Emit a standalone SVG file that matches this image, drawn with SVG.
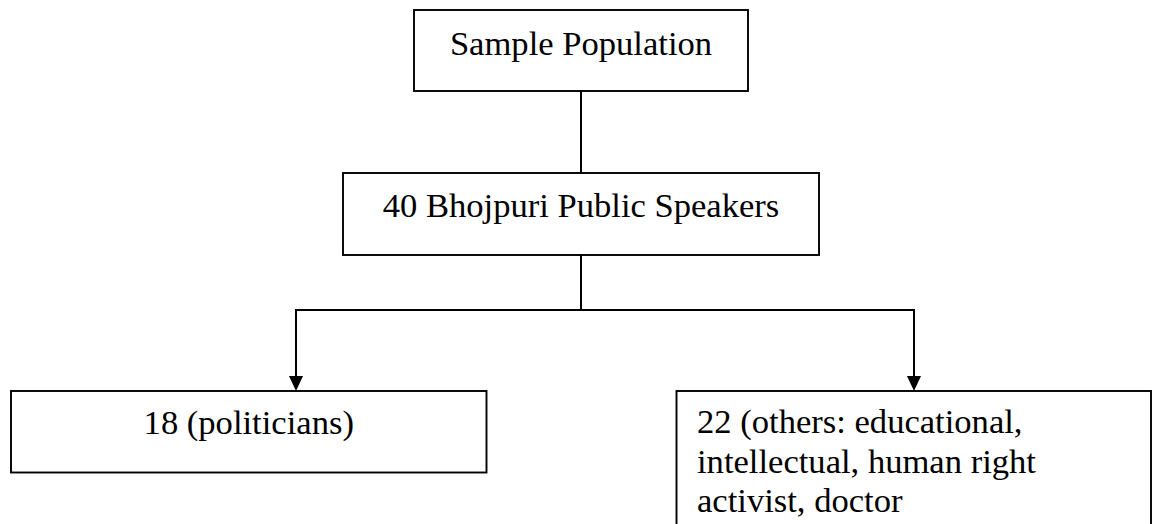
<svg xmlns="http://www.w3.org/2000/svg" width="1154" height="524" viewBox="0 0 1154 524">
  <style>
    .box { fill: #ffffff; stroke: #000000; stroke-width: 1.9; }
    .lbl { font-family: "Liberation Serif", "Times New Roman", serif; font-size: 34.6px; fill: #000000; }
    .mid { text-anchor: middle; }
    .conn { fill: none; stroke: #000000; stroke-width: 2; }
    .head { fill: #000000; }
  </style>
  <rect width="1154" height="524" fill="#ffffff"/>

  <g id="connectors">
    <line class="conn" x1="581" y1="91" x2="581" y2="173"/>
    <line class="conn" x1="581" y1="255" x2="581" y2="310"/>
    <path class="conn" d="M296,377 V310 H914 V377"/>
    <path class="head" d="M296,391 L289,376 L303,376 Z"/>
    <path class="head" d="M914,391 L907,376 L921,376 Z"/>
  </g>

  <g id="node-sample">
    <rect class="box" x="414" y="10" width="334" height="81"/>
    <text class="lbl mid" x="581" y="55">Sample Population</text>
  </g>

  <g id="node-speakers">
    <rect class="box" x="343" y="173" width="476" height="82"/>
    <text class="lbl mid" x="581" y="217">40 Bhojpuri Public Speakers</text>
  </g>

  <g id="node-politicians">
    <rect class="box" x="11" y="391" width="475.5" height="81.5"/>
    <text class="lbl mid" x="248.75" y="434">18 (politicians)</text>
  </g>

  <g id="node-others">
    <rect class="box" x="676.5" y="391" width="474.5" height="150"/>
    <text class="lbl" x="697" y="433">22 (others: educational,</text>
    <text class="lbl" x="697" y="472.5">intellectual, human right</text>
    <text class="lbl" x="697" y="512">activist, doctor</text>
  </g>
</svg>
